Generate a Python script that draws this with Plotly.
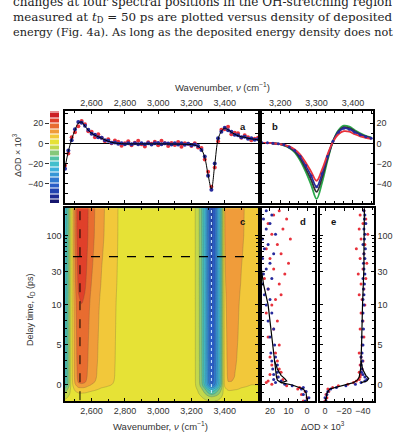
import numpy as np
import plotly.graph_objects as go

W, H = 397, 432
def px(x): return x / W
def py(y): return 1 - y / H

# ---------------- data ----------------
# panel a: transient spectrum at t_D = 50 ps
wn_a = [2440, 2460, 2480, 2500, 2520, 2540, 2560, 2580, 2600, 2620, 2640, 2660, 2680, 2700,
        2720, 2740, 2760, 2780, 2800, 2820, 2840, 2860, 2880, 2900, 2920, 2940, 2960, 2980,
        3000, 3020, 3040, 3060, 3080, 3100, 3120, 3140, 3160, 3180, 3200, 3220, 3240, 3260,
        3280, 3300, 3320, 3340, 3360, 3380, 3400, 3420, 3440, 3460, 3480, 3500, 3520, 3540,
        3560, 3580, 3600]
fit_a = [-24, -8, 4, 13, 20, 21, 17, 13, 10, 8, 6.5, 5, 3.5, 2, 1, 0.3, 0, -0.3, -0.5, -0.5,
         -0.5, -0.5, -0.5, -0.5, -0.5, -0.5, -0.5, -0.5, -0.5, -0.5, -0.5, -0.6, -0.6, -0.7,
         -0.7, -0.8, -0.9, -1, -1.2, -1.8, -3, -6, -14, -31, -45, -21, 4, 12, 15, 13.5, 11, 9,
         7.5, 6.5, 6, 5, 4.5, 4, 3.5]
red_a = [-22, -10, 6, 11, 17, 22, 19, 12, 11.5, 6, 9, 5.5, 2, 4, 0, 2.8, 1.5, -2.3, 0, 2, -2,
         0.5, 2.5, -1, -3, 1, -0.5, 1.5, -2, 2.5, 0, -2.6, 0.4, -1.7, 1.3, -3.3, 0.1, -0.5,
         -2.7, 0.2, -4, -4.5, -16, -28, -43, -24, 2, 13.5, 14, 16.5, 9, 10.5, 10, 5.5, 8, 6, 3,
         4.5, 5.5]
blue_a = [-25, -7, 3, 14, 21, 20.5, 17.5, 13.5, 9.5, 8.5, 6, 5.5, 3, 2.5, 0.5, 0.8, -0.5, 0.2,
          -1, 0, -1, 0, -0.8, 0.2, -1, 0, -1.2, 0, 0.3, -1, 0, -0.2, -1.2, 0, -1.2, 0, -1.5,
          -0.5, -1.8, -1.2, -2.5, -6.5, -13, -32, -46, -20, 5, 11.5, 15.5, 13, 11.5, 8.5, 8, 6,
          6.5, 4.5, 5, 3.5, 4]

# panel b: OH-stretch region for different energy densities
wn_b = [3150, 3165, 3180, 3195, 3210, 3225, 3240, 3255, 3270, 3285, 3300, 3315, 3330, 3345,
        3360, 3375, 3390, 3405, 3420, 3435, 3450]
b_green = [0.5, 0.5, 0, -0.5, -2, -4.5, -9, -17, -28, -41, -55, -39, -17, 2, 13, 17.5, 16.5, 13, 10, 7.5, 6]
b_black = [0.5, 0.5, 0, -0.5, -1.8, -4, -8, -15, -25, -36, -48, -34, -15, 2, 12, 16, 15, 12, 9, 7, 5.5]
b_blue = [0.5, 0.5, 0, -0.5, -1.5, -3.5, -7, -13, -22, -32, -43, -30, -13, 2, 11, 15, 14, 11, 8.5, 6.5, 5]
b_red = [0.5, 0.5, 0, -0.5, -1.5, -3, -6, -11, -19, -28, -37, -26, -11, 1.5, 9, 12, 11.5, 9, 7, 5.5, 4.5]

# panel c: late-delay spectral profile of the map and its delay dependence
map_prof = [-22, -12, 2, 14, 22, 23, 22, 18, 15, 13, 11, 9, 8, 7, 6, 4.5, 3, 2, 1.5, 2, 1.2, 1.8,
            2.4, 1.5, 1, 1.8, 2.2, 1.4, 1.2, 2, 1.6, 1, 1.8, 2.5, 1.5, 1.2, 1.6, 1, 0.5, -1.5, -5,
            -12, -22, -36, -46, -40, -28, -14, 8, 13, 13, 12, 11, 9, 8, 7, 6, 6, 6]
t_map = [-2, -1.5, -1, -0.7, -0.4, -0.2, 0, 0.2, 0.5, 1, 2, 3, 5, 7, 10, 15, 20, 30, 50, 75, 100, 150, 250]
amp_pos = [0, 0.05, 0.15, 0.25, 0.35, 0.45, 0.55, 0.62, 0.68, 0.72, 0.74, 0.76, 0.78, 0.8, 0.84,
           0.88, 0.92, 0.96, 1, 1.03, 1.05, 1.06, 1.07]
amp_neg = [0.05, 0.15, 0.35, 0.45, 0.6, 0.75, 0.85, 0.9, 0.93, 0.94, 0.95, 0.96, 0.97, 0.97, 0.98,
           0.99, 1, 1, 1, 1, 1.01, 1.02, 1.02]
probe_wn = 2530      # dashed vertical marker in c
probe_t = 50         # dashed horizontal marker in c
dip_wn = 3320        # dotted marker along the bleach

# panels d, e: kinetics
t_k = [-2, -1.6, -1.2, -0.8, -0.5, -0.3, -0.1, 0.1, 0.3, 0.5, 0.7, 1, 1.3, 1.6, 2, 2.5, 3, 3.5, 4,
       5, 6, 7, 8, 9, 10, 12, 14, 17, 20, 24, 28, 33, 40, 47, 55, 65, 75, 90, 105, 125, 150, 175,
       200, 230]
d_blue = [1, -1, 2, 0.5, 3, 2, 8, 12, 17, 14, 18, 15.5, 18, 16, 18.5, 16, 19, 17, 19.5, 17.5, 20,
          18, 21, 19, 22, 20, 23, 21, 24, 19, 23.5, 22, 20, 24, 18, 23, 21, 24, 17, 22, 20, 23.5, 19, 22]
d_red = [2, 0, 3, 1, 5, 4, 11, 19, 22, 21, 13, 16, 20, 14, 15, 19, 16, 20, 17, 15, 21, 18, 16, 22,
         19, 17, 14, 21, 15, 23, 12, 18, 10, 20, 14, 22, 16, 9, 19, 13, 21, 11, 18, 15]
e_blue = [-1, 0, -2, -3, -6, -12, -22, -32, -38, -42, -44, -42, -40, -38.5, -39, -38, -39.5, -38,
          -39, -40, -39, -40.5, -39.5, -40, -41, -40, -41, -40.5, -41.5, -40, -42, -41, -40.5, -42,
          -41, -42.5, -40, -41.5, -42, -41, -43, -41.5, -42, -41]
e_red = [0, -2, -1, -4, -3, -8, -14, -24, -30, -33, -36, -37, -38, -36, -39, -37, -40, -38, -36,
         -39, -41, -37, -40, -38, -42, -39, -36, -41, -38, -43, -35, -40, -44, -37, -41, -33, -42,
         -38, -45, -36, -40, -43, -37, -41]
t_fit = [-2, -1, -0.5, 0, 0.3, 0.6, 1, 2, 3, 5, 10, 20, 35, 60, 250]
d_fit = [0, 0.5, 2, 8, 14, 16, 16.5, 17, 17.5, 18.5, 21, 23.5, 25, 26, 27]
e_fit = [-1, -2, -5, -20, -30, -34, -36, -37.5, -38, -38.5, -39.5, -40.5, -41, -41, -41.5]
t_fit2 = [0.3, 0.5, 0.8, 1.2, 2, 3]
d_fit2 = [14, 11, 12, 14, 16, 17.5]
e_fit2 = [-38, -44, -46, -43, -39.5, -38]

tick_wn = [2600, 2800, 3000, 3200, 3400]
tick_t = [0, 5, 10, 30, 100]

# ---------------- helpers ----------------
def ty(t):
    t = np.asarray(t, dtype=float)
    return np.where(t <= 10, t, 10 + 3.75 * np.log(np.maximum(t, 1e-9) / 10))

YMIN, YMAX = -59, 32
NB = 17
step = (YMAX - YMIN) / NB
B0 = -2 - 11 * step          # lowest colour-level boundary
colors = ["#16166e", "#1c2a94", "#2142b0", "#2a5cc6", "#2f78d0", "#3596d6", "#3db0dc",
          "#42bfcc", "#55c2a6", "#86c87a", "#c3d84c", "#e6e236", "#f2c83a", "#f09c3a",
          "#e86c30", "#e0402a", "#cc1e24"]
cs = [[k / (NB - 1), colors[k]] for k in range(NB)]

prof = np.array(map_prof)
A_p = np.array(amp_pos)[:, None]
A_n = np.array(amp_neg)[:, None]
zmap = A_p * np.clip(prof, 0, None)[None, :] + A_n * np.clip(prof, None, 0)[None, :]

RED = "#e8323c"
BLUE = "#262a9c"
FONT = "Liberation Sans"
tf = dict(size=9, color="#333", family=FONT)

fig = go.Figure()

# colour bar
fig.add_trace(go.Heatmap(x=[0], y=[B0 + step * (k + 0.5) for k in range(NB + 1)],
                         z=[[min(k, NB - 1)] for k in range(NB + 1)], zmin=0, zmax=NB - 1, colorscale=cs,
                         showscale=False, ygap=1, xaxis="x6", yaxis="y6", hoverinfo="skip"))

# panel a
fig.add_trace(go.Scatter(x=wn_a, y=red_a, mode="markers", marker=dict(size=4, color=RED), xaxis="x", yaxis="y"))
fig.add_trace(go.Scatter(x=wn_a, y=blue_a, mode="markers", marker=dict(size=4, color=BLUE), xaxis="x", yaxis="y"))
fig.add_trace(go.Scatter(x=wn_a, y=fit_a, mode="lines", line=dict(color="black", width=1, shape="spline"), xaxis="x", yaxis="y"))

# panel b
for ys, col in [(b_green, "#2aa84a"), (b_black, "#333333"), (b_blue, BLUE), (b_red, RED)]:
    fig.add_trace(go.Scatter(x=wn_b, y=ys, mode="lines", line=dict(color=col, width=1.8, shape="spline"),
                             xaxis="x2", yaxis="y2"))
fig.add_trace(go.Scatter(x=wn_b, y=b_blue, mode="markers", marker=dict(size=3, color=BLUE), xaxis="x2", yaxis="y2"))

# panel c
fig.add_trace(go.Contour(x=wn_a, y=ty(t_map), z=zmap, colorscale=cs, showscale=False,
                         contours=dict(start=B0 + step, end=B0 + 16.1 * step, size=step, coloring="fill"),
                         line=dict(width=0.4, color="rgba(70,70,70,0.55)", smoothing=0.9),
                         xaxis="x3", yaxis="y3", hoverinfo="skip"))
fig.add_trace(go.Scatter(x=[dip_wn, dip_wn], y=ty([-1, 250]), mode="lines",
                         line=dict(color="#cdeeff", width=1, dash="dot"), xaxis="x3", yaxis="y3"))
fig.add_trace(go.Scatter(x=[probe_wn, probe_wn], y=ty([-1.9, 250]), mode="lines",
                         line=dict(color="black", width=1, dash="dash"), xaxis="x3", yaxis="y3"))
fig.add_trace(go.Scatter(x=[2488, 3540], y=ty([probe_t, probe_t]), mode="lines",
                         line=dict(color="black", width=1.3, dash="dash"), xaxis="x3", yaxis="y3"))

# panel d
fig.add_trace(go.Scatter(x=d_red, y=ty(t_k), mode="markers", marker=dict(size=3, color=RED), xaxis="x4", yaxis="y4"))
fig.add_trace(go.Scatter(x=d_blue, y=ty(t_k), mode="markers", marker=dict(size=3, color=BLUE), xaxis="x4", yaxis="y4"))
fig.add_trace(go.Scatter(x=d_fit, y=ty(t_fit), mode="lines", line=dict(color="black", width=1.2), xaxis="x4", yaxis="y4"))
fig.add_trace(go.Scatter(x=d_fit2, y=ty(t_fit2), mode="lines", line=dict(color="black", width=1.2), xaxis="x4", yaxis="y4"))

# panel e
fig.add_trace(go.Scatter(x=e_red, y=ty(t_k), mode="markers", marker=dict(size=3, color=RED), xaxis="x5", yaxis="y5"))
fig.add_trace(go.Scatter(x=e_blue, y=ty(t_k), mode="markers", marker=dict(size=3, color=BLUE), xaxis="x5", yaxis="y5"))
fig.add_trace(go.Scatter(x=e_fit, y=ty(t_fit), mode="lines", line=dict(color="black", width=1.2), xaxis="x5", yaxis="y5"))
fig.add_trace(go.Scatter(x=e_fit2, y=ty(t_fit2), mode="lines", line=dict(color="black", width=1.2), xaxis="x5", yaxis="y5"))

common = dict(showline=True, linecolor="black", linewidth=1.5, mirror="ticks", ticks="inside",
              ticklen=3, tickwidth=1, tickcolor="black", showgrid=False, zeroline=False, tickfont=tf)

def minor(vals):
    return dict(tickmode="array", tickvals=vals, ticks="inside", ticklen=2, tickcolor="black")

wn_lab = ["{:,}".format(v) for v in tick_wn]
t_minor = [-2, -1, 1, 2, 3, 4, 6, 7, 8, 9, 20, 40, 50, 60, 70, 80, 90, 200]
ya = dict(domain=[py(203), py(111)], range=[YMIN, YMAX])
yc = dict(domain=[py(401), py(208)], range=[float(ty(-2)), float(ty(252))])

fig.update_layout(
    width=W, height=H, margin=dict(l=0, r=0, t=0, b=0),
    paper_bgcolor="white", plot_bgcolor="white", showlegend=False,
    xaxis=dict(common, domain=[px(65), px(258)], range=[2440, 3600], side="top", anchor="y",
               tickvals=tick_wn, ticktext=wn_lab, minor=minor([2500, 2700, 2900, 3100, 3300, 3500])),
    yaxis=dict(common, **ya, anchor="x", tickvals=[-50, -40, -30, -20, -10, 0, 10, 20, 30], showticklabels=False,
               zeroline=True, zerolinecolor="black", zerolinewidth=1.3),
    xaxis2=dict(common, domain=[px(262), px(373)], range=[3150, 3455], side="top", anchor="y2",
                tickvals=[3200, 3300, 3400], ticktext=["3,200", "3,300", "3,400"],
                minor=minor([3175, 3225, 3250, 3275, 3325, 3350, 3375, 3425, 3450])),
    yaxis2=dict(common, **ya, anchor="x2", side="right", tickvals=[-40, -20, 0, 20],
                ticktext=["−40", "−20", "0", "20"], minor=minor([-50, -30, -10, 10, 30]),
                zeroline=True, zerolinecolor="black", zerolinewidth=1.3),
    xaxis3=dict(common, domain=[px(65), px(258)], range=[2440, 3600], side="bottom", anchor="y3",
                tickvals=tick_wn, ticktext=wn_lab, minor=minor([2500, 2700, 2900, 3100, 3300, 3500])),
    yaxis3=dict(common, **yc, anchor="x3", tickvals=list(ty(tick_t)), ticktext=[str(v) for v in tick_t],
                minor=minor(list(ty(t_minor)))),
    xaxis4=dict(common, domain=[px(262), px(315)], range=[24.3, -4.3], anchor="y4",
                tickvals=[20, 10, 0], minor=minor([15, 5])),
    yaxis4=dict(common, **yc, anchor="x4", tickvals=list(ty(tick_t)), showticklabels=False,
                minor=minor(list(ty(t_minor)))),
    xaxis5=dict(common, domain=[px(320), px(374)], range=[5.3, -51.6], anchor="y5",
                tickvals=[0, -20, -40], ticktext=["0", "−20", "−40"], minor=minor([-10, -30, -50])),
    yaxis5=dict(common, **yc, anchor="x5", side="right", tickvals=list(ty(tick_t)),
                ticktext=[str(v) for v in tick_t], minor=minor(list(ty(t_minor)))),
    xaxis6=dict(domain=[px(50), px(59)], range=[-0.5, 0.5], anchor="y6", visible=False, fixedrange=True),
    yaxis6=dict(**ya, anchor="x6", side="left", showline=False, showgrid=False, zeroline=False,
                ticks="outside", ticklen=4, tickcolor="#333", tickvals=[-40, -20, 0, 20],
                ticktext=["−40", "−20", "0", "20"], tickfont=tf),
)

ann = []
def text(x, y, s, size=8, xanchor="center", angle=0, bold=False, family=FONT, color="#333"):
    ann.append(dict(x=px(x), y=py(y), xref="paper", yref="paper", text=("<b>%s</b>" % s) if bold else s,
                    showarrow=False, xanchor=xanchor, yanchor="middle", textangle=angle,
                    font=dict(size=size, family=family, color=color)))

serif = "DejaVu Serif"
text(11, 2, "changes at four spectral positions in the OH-stretching region", 12.0, "left", family=serif, color="#222")
text(11, 18, "measured at <i>t</i><sub>D</sub> = 50 ps are plotted versus density of deposited", 11.9, "left", family=serif, color="#222")
text(11, 32, "energy (Fig. 4a). As long as the deposited energy density does not", 11.3, "left", family=serif, color="#222")

text(222, 87, "Wavenumber, <i>ν</i> (cm<sup>−1</sup>)", 9.5)
text(160, 426, "Wavenumber, <i>ν</i> (cm<sup>−1</sup>)", 9.5)
text(323, 426, "ΔOD × 10<sup>3</sup>", 9)
text(17, 155, "ΔOD × 10<sup>3</sup>", 9, angle=-90)
text(30, 310, "Delay time, <i>t</i><sub>D</sub> (ps)", 9, angle=-90)
text(243, 127, "a", 9.5, bold=True, color="#111")
text(275, 127, "b", 9.5, bold=True, color="#111")
text(242, 222, "c", 9.5, bold=True, color="#111")
text(303, 222, "d", 9.5, bold=True, color="#111")
text(333, 222, "e", 9.5, bold=True, color="#111")
fig.update_layout(annotations=ann)

fig.write_html("out.html")
